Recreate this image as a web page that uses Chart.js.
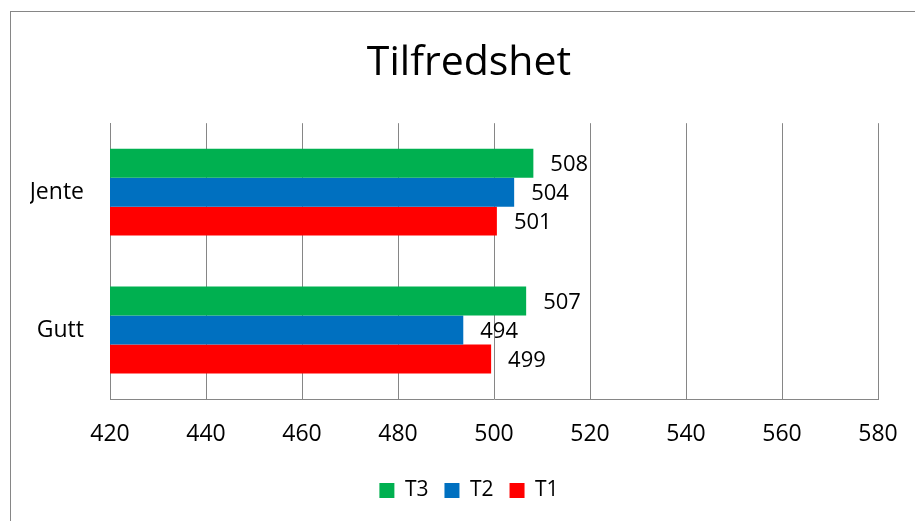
<!DOCTYPE html>
<html>
<head>
<meta charset="utf-8">
<script src="https://cdn.jsdelivr.net/npm/chart.js@4"></script>
<style>
  body { margin: 0; background: #fff; }
  #wrap { position: relative; width: 915px; height: 521px; }
</style>
</head>
<body>
<div id="wrap"><canvas id="chart"></canvas></div>
<script>
  // values
  const categories = ["Jente", "Gutt"];
  const seriesNames = ["T3", "T2", "T1"];
  const t3Values = [508.2, 506.7];
  const t2Values = [504.2, 493.6];
  const t1Values = [500.6, 499.4];
  const seriesColors = ["#00B050", "#0070C0", "#FF0000"];
  const xMin = 420, xMax = 580, xStep = 20;

  const FONT = "'Open Sans', sans-serif";
  const GRID = "#868686";

  // white page + outer frame of the chart object
  const framePlugin = {
    id: "frame",
    beforeDraw(chart) {
      const ctx = chart.ctx;
      ctx.save();
      ctx.fillStyle = "#fff";
      ctx.fillRect(0, 0, chart.width, chart.height);
      ctx.strokeStyle = GRID;
      ctx.lineWidth = 1;
      ctx.strokeRect(10.5, 11.5, chart.width + 20, chart.height + 20);
      ctx.restore();
    }
  };

  // value labels to the right of each bar
  const valueLabels = {
    id: "valueLabels",
    afterDatasetsDraw(chart) {
      const ctx = chart.ctx;
      ctx.save();
      ctx.font = "22px " + FONT;
      ctx.fillStyle = "#000";
      ctx.textAlign = "left";
      ctx.textBaseline = "middle";
      chart.data.datasets.forEach((ds, i) => {
        chart.getDatasetMeta(i).data.forEach((bar, j) => {
          ctx.fillText(String(Math.round(ds.data[j])), bar.x + 17, bar.y + 2);
        });
      });
      ctx.restore();
    }
  };

  const valueSets = [t3Values, t2Values, t1Values];

  new Chart(document.getElementById("chart"), {
    type: "bar",
    data: {
      labels: categories,
      datasets: seriesNames.map((name, i) => ({
        label: name,
        data: valueSets[i],
        backgroundColor: seriesColors[i],
        borderWidth: 0,
        categoryPercentage: 0.63,
        barPercentage: 1
      }))
    },
    options: {
      indexAxis: "y",
      responsive: true,
      maintainAspectRatio: false,
      animation: false,
      layout: { padding: { top: 0, left: 30, right: 7, bottom: 10 } },
      plugins: {
        title: {
          display: true,
          text: "Tilfredshet",
          color: "#000",
          font: { family: FONT, size: 41, weight: "normal" },
          padding: { top: 39, bottom: 35 }
        },
        legend: {
          position: "bottom",
          labels: {
            color: "#000",
            font: { family: FONT, size: 21 },
            boxWidth: 15,
            boxHeight: 15,
            padding: 16
          }
        },
        tooltip: { enabled: false }
      },
      scales: {
        x: {
          min: xMin,
          max: xMax,
          ticks: {
            stepSize: xStep,
            color: "#000",
            font: { family: FONT, size: 23 },
            padding: 22
          },
          grid: { color: GRID, drawTicks: false },
          border: { color: GRID },
          afterFit(scale) {
            scale.height = 65;
            scale.paddingLeft = 0;
            scale.paddingRight = 37;
          }
        },
        y: {
          ticks: {
            color: "#000",
            font: { family: FONT, size: 23 },
            padding: 26
          },
          grid: { display: false, drawTicks: false },
          border: { color: GRID },
          afterFit(scale) {
            scale.width = 80;
          }
        }
      }
    },
    plugins: [framePlugin, valueLabels]
  });
</script>
</body>
</html>
